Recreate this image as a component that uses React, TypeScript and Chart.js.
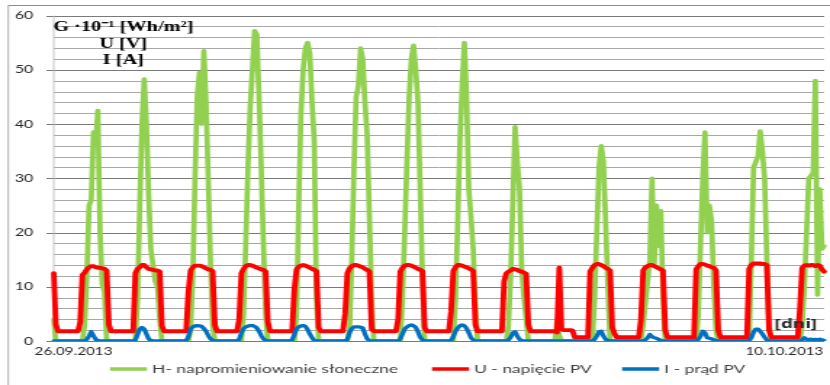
import { useEffect, useRef } from 'react';
import { Chart, registerables } from 'chart.js';

Chart.register(...registerables);

// ---- data (hourly samples, 26.09.2013 -> 10.10.2013) ----
const seriesLabels = ['H- napromieniowanie słoneczne', 'U - napięcie PV', 'I - prąd PV'];
const seriesColors = ['#92D050', '#FF0000', '#0070C0'];

// H - irradiance  (G·10^-1 Wh/m²)
const H = [
  4, 0, 0, 0, 0, 0, 0, 0, 0, 0, 0, 0, 0, 0, 3, 12, 25, 26, 38.5, 36, 42.5, 20, 10.5, 9,
  0, 0, 0, 0, 0, 0, 0, 0, 0, 0, 0, 0, 0, 0, 8, 25, 40, 48.3, 40, 27, 17, 14, 11, 10,
  4, 0, 0, 0, 0, 0, 0, 0, 0, 0, 0, 0, 0, 0, 2, 12, 30, 45, 49.5, 40, 53.5, 44, 30, 15,
  3, 0, 0, 0, 0, 0, 0, 0, 0, 0, 0, 0, 0, 0, 5, 18, 32, 43, 50, 57.2, 56.5, 45, 32, 18,
  5, 0, 0, 0, 0, 0, 0, 0, 0, 0, 0, 0, 0, 0, 5, 25, 42, 50, 54, 55, 53, 44, 37, 8,
  0, 0, 0, 0, 0, 0, 0, 0, 0, 0, 0, 0, 0, 0, 2, 15, 32, 45, 47, 54, 52, 44, 38, 23,
  8, 0, 0, 0, 0, 0, 0, 0, 0, 0, 0, 0, 0, 0, 8, 20, 33, 45, 52, 54.5, 50, 44, 28, 12,
  0, 0, 0, 0, 0, 0, 0, 0, 0, 0, 0, 0, 0, 0, 8, 22, 37, 47, 55, 45, 28, 23, 17, 7,
  0, 0, 0, 0, 0, 0, 0, 0, 0, 0, 0, 0, 0, 0, 3, 12, 26, 39.5, 33, 28, 13, 8, 4, 0,
  0, 0, 0, 0, 0, 0, 0, 0, 0, 0, 0, 0, 4, 1, 0, 0, 0, 0, 0, 0, 0, 0, 0, 0,
  0, 0, 0, 0, 0, 8, 20, 32, 36, 33, 22, 10, 0, 0, 0, 0, 0, 0, 0, 0, 0, 0, 0, 0,
  0, 0, 0, 3, 7, 11, 15, 30, 14, 25, 17.5, 24, 8, 0, 0, 0, 0, 0, 0, 0, 0, 0, 0, 0,
  0, 0, 0, 0, 5, 18, 30, 38.5, 20, 25, 22, 10, 2, 0, 0, 0, 0, 0, 0, 0, 0, 0, 0, 0,
  0, 0, 0, 0, 15, 32, 33, 34, 38.7, 35, 30, 15, 3, 0, 0, 0, 0, 0, 0, 0, 0, 0, 0, 0,
  0, 0, 0, 3, 10, 20, 30, 30.5, 31, 48, 8.5, 28, 17, 17.5,
];

// U - PV voltage [V]
const U = [
  12.5, 3.0, 1.8, 1.8, 1.8, 1.8, 1.8, 1.8, 1.8, 1.8, 1.8, 1.8, 3.5, 12.2, 12.6, 13.2, 13.6, 13.8, 13.8, 13.6, 13.5, 13.5, 13.4, 13.3,
  13.0, 3.0, 1.8, 1.8, 1.8, 1.8, 1.8, 1.8, 1.8, 1.8, 1.8, 1.8, 1.8, 12.5, 13.3, 13.6, 14.0, 14.0, 13.6, 13.3, 13.2, 13.1, 13.0, 13.0,
  12.8, 2.8, 1.8, 1.8, 1.8, 1.8, 1.8, 1.8, 1.8, 1.8, 1.8, 1.8, 1.8, 9.0, 13.0, 13.6, 13.9, 13.9, 13.9, 13.8, 13.6, 13.4, 13.2, 13.1,
  12.9, 3.0, 1.8, 1.8, 1.8, 1.8, 1.8, 1.8, 1.8, 1.8, 1.8, 1.8, 4.0, 12.5, 13.3, 13.8, 14.0, 14.0, 13.9, 13.7, 13.5, 13.4, 13.2, 13.1,
  12.8, 3.5, 1.8, 1.8, 1.8, 1.8, 1.8, 1.8, 1.8, 1.8, 1.8, 1.8, 1.8, 9.5, 13.2, 13.7, 13.9, 14.0, 13.9, 13.7, 13.5, 13.3, 13.1, 12.9,
  2.5, 1.8, 1.8, 1.8, 1.8, 1.8, 1.8, 1.8, 1.8, 1.8, 1.8, 1.8, 5.0, 12.5, 13.4, 13.8, 14.0, 14.0, 13.9, 13.7, 13.6, 13.3, 13.1, 12.8,
  2.2, 1.8, 1.8, 1.8, 1.8, 1.8, 1.8, 1.8, 1.8, 1.8, 1.8, 1.8, 4.0, 12.8, 13.5, 13.9, 14.0, 14.0, 13.9, 13.7, 13.5, 13.3, 13.1, 12.9,
  2.5, 1.8, 1.8, 1.8, 1.8, 1.8, 1.8, 1.8, 1.8, 1.8, 1.8, 1.8, 5.5, 12.9, 13.6, 14.0, 14.0, 13.9, 13.7, 13.6, 13.4, 13.2, 12.9, 3.0,
  1.8, 1.8, 1.8, 1.8, 1.8, 1.8, 1.8, 1.8, 1.8, 1.8, 1.8, 1.8, 11.0, 12.5, 12.8, 13.0, 13.3, 13.2, 13.1, 12.9, 12.8, 12.6, 12.4, 3.0,
  1.8, 1.8, 1.8, 1.8, 1.8, 1.8, 1.8, 1.8, 1.8, 1.8, 1.8, 1.8, 1.6, 13.5, 2.2, 2.0, 2.0, 2.0, 2.0, 1.9, 0.7, 0.7, 0.7, 0.7,
  0.7, 0.7, 0.7, 12.8, 13.5, 14.0, 14.2, 14.2, 14.0, 13.8, 13.5, 13.3, 13.0, 2.5, 1.4, 0.7, 0.7, 0.7, 0.7, 0.7, 0.7, 0.7, 0.7, 0.7,
  0.7, 0.7, 4.0, 13.0, 13.6, 13.8, 14.0, 14.0, 13.8, 13.6, 13.4, 13.2, 13.0, 2.0, 0.7, 0.7, 0.7, 0.7, 0.7, 0.7, 0.7, 0.7, 0.7, 0.7,
  0.7, 0.7, 0.7, 13.2, 13.8, 14.2, 14.2, 14.1, 13.9, 13.8, 13.6, 13.5, 13.0, 2.0, 0.7, 0.7, 0.7, 0.7, 0.7, 0.7, 0.7, 0.7, 0.7, 0.7,
  0.7, 0.7, 0.7, 13.3, 14.0, 14.3, 14.3, 14.3, 14.3, 14.2, 14.2, 14.0, 2.0, 0.7, 0.7, 0.7, 0.7, 0.7, 0.7, 0.7, 0.7, 0.7, 0.7, 0.7,
  0.7, 0.7, 6.0, 13.5, 13.9, 14.0, 13.9, 14.0, 14.0, 13.8, 14.0, 13.9, 13.2, 12.8,
];

// I - PV current [A]
const I = [
  0, 0, 0, 0, 0, 0, 0, 0, 0, 0, 0, 0, 0, 0, 0, 0.3, 0.9, 1.7, 1.0, 0.3, 0.1, 0, 0, 0,
  0, 0, 0, 0, 0, 0, 0, 0, 0, 0, 0, 0, 0, 0.2, 1.2, 2.2, 2.5, 2.2, 1.3, 0.4, 0.1, 0, 0, 0,
  0, 0, 0, 0, 0, 0, 0, 0, 0, 0, 0, 0, 0, 0.8, 2.2, 2.6, 2.8, 2.85, 2.8, 2.7, 2.3, 1.8, 1.0, 0.4,
  0.15, 0, 0, 0, 0, 0, 0, 0, 0, 0, 0, 0, 0.3, 1.5, 2.3, 2.6, 2.75, 2.85, 2.85, 2.7, 2.4, 1.8, 1.0, 0.4,
  0.1, 0, 0, 0, 0, 0, 0, 0, 0, 0, 0, 0, 0.2, 1.2, 2.2, 2.6, 2.8, 2.85, 2.7, 2.1, 1.3, 0.6, 0.1, 0,
  0, 0, 0, 0, 0, 0, 0, 0, 0, 0, 0, 0, 0, 0.3, 1.6, 2.3, 2.6, 2.6, 2.6, 2.55, 2.4, 1.3, 0.4, 0.05,
  0, 0, 0, 0, 0, 0, 0, 0, 0, 0, 0, 0, 0, 0.4, 1.3, 2.2, 2.6, 2.85, 2.95, 2.8, 2.5, 1.7, 0.7, 0.2,
  0, 0, 0, 0, 0, 0, 0, 0, 0, 0, 0, 0, 0.1, 0.8, 1.8, 2.4, 2.8, 2.95, 2.8, 2.3, 1.5, 0.6, 0.2, 0,
  0, 0, 0, 0, 0, 0, 0, 0, 0, 0, 0, 0, 0, 0, 0.2, 0.7, 1.5, 1.7, 0.9, 0.3, 0.1, 0, 0, 0,
  0, 0, 0, 0, 0, 0, 0, 0, 0, 0, 0, 0, 0, 0, 0, 0, 0, 0, 0, 0, 0, 0, 0, 0,
  0, 0, 0, 0, 0, 0.3, 0.9, 1.7, 1.8, 0.9, 0.3, 0.1, 0, 0, 0, 0, 0, 0, 0, 0, 0, 0, 0, 0,
  0, 0, 0, 0, 0.2, 0.6, 1.2, 0.8, 0.6, 0.5, 0.3, 0.1, 0, 0, 0, 0, 0, 0, 0, 0, 0, 0, 0, 0,
  0, 0, 0, 0, 0.3, 0.9, 1.8, 1.5, 0.6, 0.5, 0.4, 0.2, 0.1, 0, 0, 0, 0, 0, 0, 0, 0, 0, 0, 0,
  0, 0, 0, 0.1, 0.6, 1.6, 2.2, 2.2, 1.8, 1.3, 0.7, 0.2, 0, 0, 0, 0, 0, 0, 0, 0, 0, 0, 0, 0,
  0, 0, 0, 0.2, 0.6, 0.3, 0.25, 0.35, 0.2, 0.3, 0.2, 0.35, 0.2, 0.1,
];

const dateTickLabels = ['26.09.2013', '10.10.2013'];
const dateTickIndex = [9, 331];
const unitLines = ['G ·10⁻¹ [Wh/m²]', 'U [V]', 'I [A]'];
const xAxisTitle = '[dni]';
const yMin = 0;
const yMax = 60;
const yStep = 2;
const yLabelStep = 10;

// ---- layout (canvas is drawn narrow and stretched horizontally, like the source image) ----
const CANVAS_W = 572;
const CANVAS_H = 385;
const CSS_W = 830;
const SANS = 'Lato, "Open Sans", sans-serif';
const LEGEND_X = [75.8, 297.7, 428.7];
const MAJOR_GRID = '#7a7a7a';
const MINOR_GRID = '#a8a8a8';
const TRANSPARENT = 'rgba(0,0,0,0)';

const isMajor = (v: number) => Math.abs(v % yLabelStep) < 1e-9;

const decorPlugin = {
  id: 'decor',
  beforeDraw(chart: any) {
    const { ctx, chartArea: a } = chart;
    const ys = chart.scales.y;
    ctx.save();
    // outer frame
    ctx.strokeStyle = '#8c8c8c';
    ctx.lineWidth = 1;
    ctx.beginPath();
    ctx.moveTo(5.7, 5.5);
    ctx.lineTo(chart.width, 5.5);
    ctx.stroke();
    ctx.lineWidth = 0.7;
    ctx.beginPath();
    ctx.moveTo(5.7, 5.5);
    ctx.lineTo(5.7, chart.height);
    ctx.stroke();
    // horizontal grid lines at every tick of the value scale (major every 10, minor every 2)
    ctx.lineWidth = 1;
    for (let v = yMin; v <= yMax; v += yStep) {
      const py = Math.round(ys.getPixelForValue(v)) + 0.5;
      const major = isMajor(v);
      ctx.strokeStyle = major ? MAJOR_GRID : MINOR_GRID;
      ctx.beginPath();
      ctx.moveTo(major ? a.left - 5 : a.left, py);
      ctx.lineTo(a.right, py);
      ctx.stroke();
    }
    ctx.strokeStyle = '#b8b8b8';
    ctx.lineWidth = 0.8;
    ctx.beginPath();
    ctx.moveTo(a.left, a.top);
    ctx.lineTo(a.left, a.bottom);
    ctx.stroke();
    ctx.restore();
  },
  afterDraw(chart: any) {
    const { ctx, chartArea: a } = chart;
    ctx.save();
    // unit block
    ctx.fillStyle = '#000';
    ctx.font = 'bold 14px "Liberation Serif", serif';
    ctx.textAlign = 'center';
    ctx.textBaseline = 'middle';
    unitLines.forEach((t, i) => ctx.fillText(t, a.left + 48, a.top + 11.7 + i * 16.7));
    // x axis title
    ctx.font = 'bold 13px "Open Sans", "Liberation Sans", sans-serif';
    ctx.fillStyle = '#262626';
    ctx.fillText(xAxisTitle, a.right - 19.5, a.bottom - 17);
    // legend
    const ds = chart.data.datasets;
    ctx.font = `12px ${SANS}`;
    const lineLen = 25.5;
    const textGap = 3.5;
    const y = 369;
    ds.forEach((d: any, i: number) => {
      const x = LEGEND_X[i];
      ctx.strokeStyle = d.borderColor;
      ctx.lineWidth = 3.5;
      ctx.lineCap = 'butt';
      ctx.beginPath();
      ctx.moveTo(x, y);
      ctx.lineTo(x + lineLen, y);
      ctx.stroke();
      ctx.fillStyle = '#404040';
      ctx.textAlign = 'left';
      ctx.textBaseline = 'middle';
      ctx.fillText(d.label, x + lineLen + textGap, y);
    });
    ctx.restore();
  },
};

export default function App() {
  const ref = useRef<HTMLCanvasElement | null>(null);

  useEffect(() => {
    if (!ref.current) return;
    const labels = H.map((_, i) => String(i));
    const yTicks: number[] = [];
    for (let v = yMin; v <= yMax; v += yStep) yTicks.push(v);
    const mk = (idx: number, data: number[], width: number, order: number) => ({
      label: seriesLabels[idx],
      data,
      borderColor: seriesColors[idx],
      backgroundColor: seriesColors[idx],
      borderWidth: width,
      pointRadius: 0,
      pointHoverRadius: 0,
      tension: 0,
      fill: false,
      borderJoinStyle: 'round' as const,
      borderCapStyle: 'round' as const,
      order,
    });
    const chart = new Chart(ref.current, {
      type: 'line',
      data: {
        labels,
        datasets: [mk(0, H, 3.7, 3), mk(1, U, 3.9, 2), mk(2, I, 3.3, 1)],
      },
      plugins: [decorPlugin],
      options: {
        responsive: false,
        animation: false,
        devicePixelRatio: 1,
        events: [],
        layout: { padding: { left: 0, right: 3, top: 14, bottom: 0 } },
        plugins: { legend: { display: false }, tooltip: { enabled: false }, title: { display: false } },
        scales: {
          x: {
            type: 'category',
            grid: { display: false, drawTicks: false },
            border: { display: false },
            ticks: {
              autoSkip: false,
              maxRotation: 0,
              minRotation: 0,
              padding: 4,
              color: '#262626',
              font: { family: SANS, size: 10.5 },
              callback: (_v: any, index: number) => {
                const k = dateTickIndex.indexOf(index);
                return k >= 0 ? dateTickLabels[k] : '';
              },
            },
            afterFit: (s: any) => {
              s.height = 44;
            },
          },
          y: {
            type: 'linear',
            min: yMin,
            max: yMax,
            border: { display: false },
            grid: { display: true, color: TRANSPARENT, tickColor: TRANSPARENT, tickLength: 5 },
            ticks: {
              autoSkip: false,
              padding: 9,
              color: '#262626',
              font: { family: SANS, size: 11 },
              callback: (v: any) => (isMajor(Number(v)) ? String(v) : ''),
            },
            afterBuildTicks: (s: any) => {
              s.ticks = yTicks.map((v) => ({ value: v }));
            },
            afterFit: (s: any) => {
              s.width = 37;
            },
          },
        },
      },
    });
    return () => chart.destroy();
  }, []);

  return (
    <div style={{ position: 'absolute', left: 0, top: 0, width: CSS_W, height: CANVAS_H, background: '#fff' }}>
      <canvas
        ref={ref}
        width={CANVAS_W}
        height={CANVAS_H}
        style={{ width: `${CSS_W}px`, height: `${CANVAS_H}px`, display: 'block' }}
      />
    </div>
  );
}
